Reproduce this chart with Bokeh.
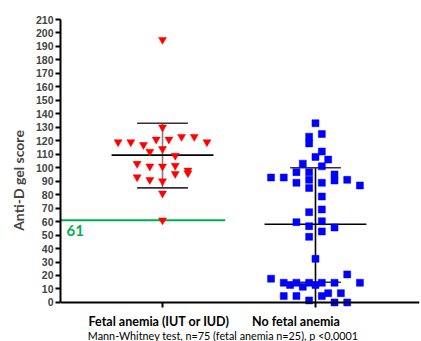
from bokeh.plotting import figure
from bokeh.models import FixedTicker, Range1d, Label, ColumnDataSource
from bokeh.embed import file_html
from bokeh.resources import INLINE

# ---------------- data ----------------
categories = ["Fetal anemia (IUT or IUD)", "No fetal anemia"]
footnote = "Mann-Whitney test, n=75 (fetal anemia n=25),  p <0,0001"
y_label = "Anti-D gel score"
y_ticks = list(range(0, 211, 10))

fetal_anemia = [195, 130, 119, 119, 117, 121, 121, 123, 123, 119, 112, 114, 109,
                103, 101, 101, 101.5, 98, 96, 95.5, 93, 91, 90, 81, 61]
fetal_anemia_slot = [0, 0, -7, -5, -3, -1, 1, 3, 5, 7, -2, 0, 2,
                     -4, -2, 0, 2, 4, 4, 2, -4, -2, 0, 0, 0]

no_fetal_anemia = [133, 125, 123, 118, 112, 108, 106, 103, 101, 96.7, 96.7, 95,
                   92.7, 92.7, 91, 91, 90.5, 88.8, 88.8, 86.8, 85, 78.6, 69, 67,
                   59.6, 60.3, 56.6, 55.6, 52.7, 48.7, 32.4, 17.6, 20.8,
                   14.6, 14.6, 14.6, 14.6, 14.6, 14.6, 12.9, 11.6, 12.9,
                   6.9, 6.9, 4.7, 4.7, 4.7, 1.5, 0, 0]
no_fetal_anemia_slot = [0, 1, -1, -1, 1, 0, 2, -2, 1, -3, -1, 3,
                        -7, -5, -1, 5, 3, -3, 1, 7, -1, 1, 1, -1,
                        -3, 1, -1, 3, 1, -1, 0, -7, 5,
                        -5, -3, -1, 1, 3, 7, -4, -2, 0,
                        2, 4, -5, -3, 1, -1, 3, 5]

center_line = [109.3, 58]      # horizontal centre line of each group
err_upper = [133, 100]         # upper cap
err_lower = [85, 15]           # lower cap
stem_lower = [85, 0]           # lower end of vertical stem
threshold = 61
threshold_label = "61"

# ---------------- style ----------------
JIT = 0.0415
RED = "#FF0000"
BLUE = "#0000FF"
GREEN = "#00B050"
xpos = [1, 2]
X0, X1 = 0.333, 2.68

p = figure(width=421, height=341, output_backend="svg", toolbar_location=None,
           x_range=Range1d(X0, X1), y_range=Range1d(-29, 210),
           min_border_left=60, min_border_right=2, min_border_top=19,
           min_border_bottom=0)
p.outline_line_color = None
p.xgrid.visible = False
p.ygrid.visible = False
p.background_fill_color = "white"
p.border_fill_color = "white"

# axes
p.yaxis.ticker = FixedTicker(ticks=y_ticks)
p.yaxis.bounds = (0, 210)
p.yaxis.axis_line_width = 2
p.yaxis.major_tick_line_width = 2
p.yaxis.major_tick_out = 5
p.yaxis.major_tick_in = 0
p.yaxis.minor_tick_line_color = None
p.yaxis.major_label_text_font = "Liberation Sans"
p.yaxis.major_label_text_font_style = "bold"
p.yaxis.major_label_text_font_size = "10.5px"
p.yaxis.major_label_standoff = 2
p.yaxis.axis_label = y_label
p.yaxis.axis_label_text_font = "Lato"
p.yaxis.axis_label_text_font_style = "bold"
p.yaxis.axis_label_text_font_size = "14px"
p.yaxis.axis_label_standoff = 6

p.xaxis.fixed_location = 0
p.xaxis.ticker = FixedTicker(ticks=xpos)
p.xaxis.major_label_overrides = {1: "", 2: ""}
p.xaxis.axis_line_width = 2
p.xaxis.major_tick_line_width = 2
p.xaxis.major_tick_out = 5
p.xaxis.major_tick_in = 0
p.xaxis.minor_tick_line_color = None

# threshold line
p.segment(x0=[X0], y0=[threshold], x1=[1.41], y1=[threshold],
          line_color=GREEN, line_width=2)
p.add_layout(Label(x=X0, y=threshold, x_offset=6, y_offset=-5,
                   text=threshold_label, text_color=GREEN, text_font="Lato",
                   text_font_style="bold", text_font_size="15px",
                   text_baseline="top", text_align="left"))

# error bars / centre lines
stem_colors = ["#808080", "#000000"]
p.segment(x0=xpos, y0=err_upper, x1=xpos, y1=stem_lower,
          line_color=stem_colors, line_width=1.6)
p.segment(x0=[x - 0.333 for x in xpos], y0=center_line,
          x1=[x + 0.333 for x in xpos], y1=center_line,
          line_color="#000000", line_width=1.6)
p.segment(x0=[x - 0.166 for x in xpos], y0=err_upper,
          x1=[x + 0.166 for x in xpos], y1=err_upper,
          line_color="#333333", line_width=1.6)
p.segment(x0=[x - 0.166 for x in xpos], y0=err_lower,
          x1=[x + 0.166 for x in xpos], y1=err_lower,
          line_color="#333333", line_width=1.6)

# points
src_a = ColumnDataSource(dict(x=[xpos[0] + s * JIT for s in fetal_anemia_slot],
                              y=fetal_anemia))
src_b = ColumnDataSource(dict(x=[xpos[1] + s * JIT for s in no_fetal_anemia_slot],
                              y=no_fetal_anemia))
p.scatter("x", "y", source=src_a, marker="inverted_triangle", size=8,
          fill_color=RED, line_color=RED, line_width=0.5)
p.scatter("x", "y", source=src_b, marker="square", size=7,
          fill_color=BLUE, line_color=BLUE, line_width=0.5)

# category labels
cat_offsets = [-3.5, -19.5]
for xc, name, off in zip(xpos, categories, cat_offsets):
    p.add_layout(Label(x=xc, y=0, x_offset=off, y_offset=-19, text=name,
                       text_font="Lato", text_font_style="bold",
                       text_font_size="12.5px", text_align="center",
                       text_baseline="alphabetic", text_color="#000000"))
p.add_layout(Label(x=1.405, y=0, y_offset=-33, text=footnote,
                   text_font="Lato", text_font_size="10.8px",
                   text_align="center", text_baseline="alphabetic",
                   text_color="#000000"))

open("out.html", "w").write(file_html(p, INLINE))
